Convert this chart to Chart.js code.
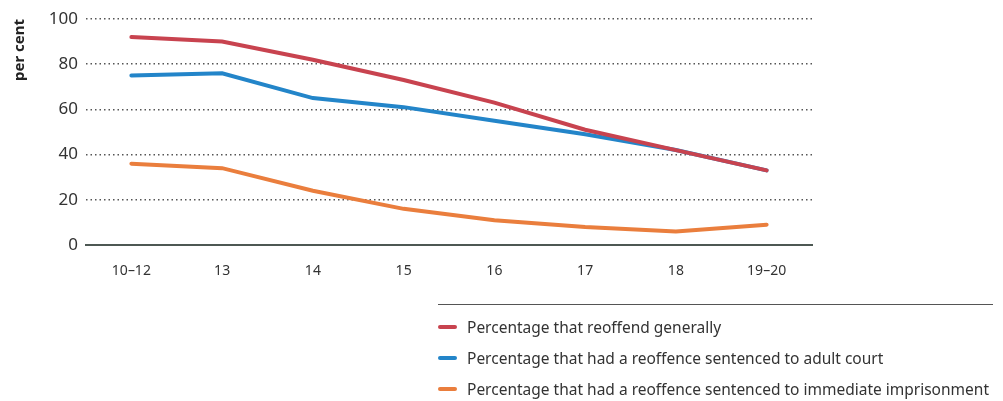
<!DOCTYPE html>
<html>
<head>
<meta charset="utf-8">
<script src="https://cdn.jsdelivr.net/npm/chart.js@4"></script>
<style>
  body { margin: 0; background: #fff; }
  #wrap { position: relative; width: 1003px; height: 401px; }
  #legend { position: absolute; left: 438px; top: 304px; width: 555px; border-top: 1.5px solid #555; padding-top: 6px; }
  .item { display: flex; align-items: center; height: 31px; font: 15.5px "Noto Sans", sans-serif; color: #333; }
  .swatch { width: 19px; height: 4px; border-radius: 2px; margin-right: 10px; }
</style>
</head>
<body>
<div id="wrap">
  <canvas id="reoffendChart" width="1003" height="401"></canvas>
  <div id="legend"></div>
</div>
<script>
const ageGroups = ['10\u201312', '13', '14', '15', '16', '17', '18', '19\u201320'];
const reoffendGenerally = [92, 90, 82, 73, 63, 51, 42, 33];
const adultCourt = [75, 76, 65, 61, 55, 49, 42, 33];
const imprisonment = [36, 34, 24, 16, 11, 8, 6, 9];
const yTicks = [0, 20, 40, 60, 80, 100];

const seriesNames = [
    'Percentage that reoffend generally',
    'Percentage that had a reoffence sentenced to adult court',
    'Percentage that had a reoffence sentenced to immediate imprisonment'
];
const colors = ['#c8434f', '#2385c9', '#ea7e3d'];

const ctx = document.getElementById('reoffendChart').getContext('2d');
const chart = new Chart(ctx, {
    type: 'line',
    data: {
        labels: ageGroups,
        datasets: [reoffendGenerally, adultCourt, imprisonment].map((d, i) => ({
            label: seriesNames[i],
            data: d,
            borderColor: colors[i],
            backgroundColor: colors[i],
            borderWidth: 4,
            pointRadius: 0,
            tension: 0,
            borderCapStyle: 'round'
        }))
    },
    options: {
        responsive: false,
        animation: false,
        layout: { padding: { top: 19, right: 191, bottom: 126, left: 0 } },
        plugins: { legend: { display: false }, tooltip: { enabled: false } },
        scales: {
            x: {
                offset: true,
                grid: { display: false },
                border: { display: true, color: '#4d5853', width: 2 },
                ticks: { color: '#333', font: { family: 'Noto Sans', size: 14 }, padding: 10 },
                afterFit: s => { s.height = 30; }
            },
            y: {
                min: 0,
                max: 100,
                afterBuildTicks: s => { s.ticks = yTicks.map(v => ({ value: v })); },
                grid: {
                    drawTicks: false,
                    color: c => c.tick && c.tick.value === 0 ? 'rgba(0,0,0,0)' : '#555',
                    lineWidth: 1.5
                },
                border: { display: false, dash: [1.5, 3] },
                ticks: { color: '#333', font: { family: 'Noto Sans', size: 17 }, padding: 8 },
                title: {
                    display: true,
                    text: 'per cent',
                    align: 'end',
                    color: '#222',
                    font: { family: 'Noto Sans', size: 15, weight: 'bold' },
                    padding: { top: 11, bottom: 0 }
                },
                afterFit: s => { s.width = 86; }
            }
        }
    }
});

// legend below the plot, in series order
const legend = document.getElementById('legend');
seriesNames.forEach((name, i) => {
    const row = document.createElement('div');
    row.className = 'item';
    row.innerHTML = '<span class="swatch" style="background:' + colors[i] + '"></span>' + name;
    legend.appendChild(row);
});
</script>
</body>
</html>
